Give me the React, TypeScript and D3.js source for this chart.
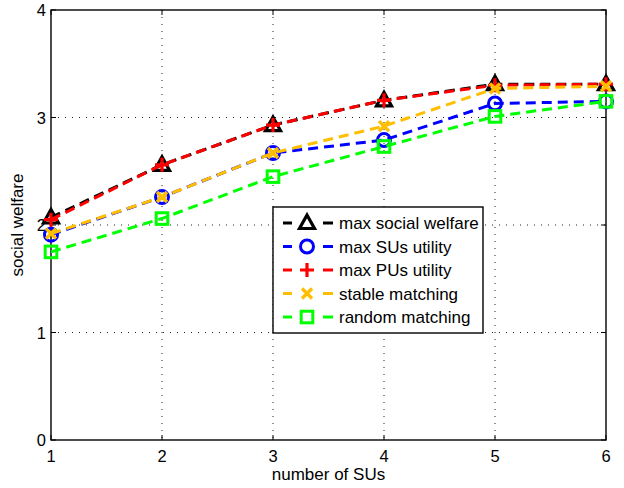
import React from "react";
import * as d3 from "d3";

const xValues = [1, 2, 3, 4, 5, 6];
const maxSocialWelfare = [2.07, 2.56, 2.93, 3.16, 3.31, 3.31];
const maxSUsUtility = [1.91, 2.26, 2.67, 2.79, 3.13, 3.15];
const maxPUsUtility = [2.05, 2.56, 2.93, 3.16, 3.30, 3.31];
const stableMatching = [1.92, 2.26, 2.67, 2.92, 3.27, 3.29];
const randomMatching = [1.75, 2.06, 2.45, 2.73, 3.01, 3.15];
const xTicks = [1, 2, 3, 4, 5, 6];
const yTicks = [0, 1, 2, 3, 4];
const seriesNames = ["max social welfare", "max SUs utility", "max PUs utility", "stable matching", "random matching"];

type MarkerKind = "tri" | "circle" | "plus" | "x" | "square";

const series: { name: string; values: number[]; color: string; marker: MarkerKind }[] = [
  { name: seriesNames[0], values: maxSocialWelfare, color: "#000000", marker: "tri" },
  { name: seriesNames[1], values: maxSUsUtility, color: "#0000ff", marker: "circle" },
  { name: seriesNames[2], values: maxPUsUtility, color: "#ff0000", marker: "plus" },
  { name: seriesNames[3], values: stableMatching, color: "#ffbf00", marker: "x" },
  { name: seriesNames[4], values: randomMatching, color: "#00ff00", marker: "square" },
];

const W = 624, H = 488;
const L = 51, R = 606, T = 10, B = 440;
const FONT = "'Liberation Sans', Arial, Helvetica, sans-serif";

function Marker({ kind, x, y, color }: { kind: MarkerKind; x: number; y: number; color: string }) {
  const sw = 3;
  switch (kind) {
    case "tri":
      return <path d={`M${x},${y - 8}L${x + 7.5},${y + 5.5}L${x - 7.5},${y + 5.5}Z`} fill="none" stroke={color} strokeWidth={3.2} strokeLinejoin="miter" />;
    case "circle":
      return <circle cx={x} cy={y} r={6.5} fill="none" stroke={color} strokeWidth={sw} />;
    case "plus":
      return <path d={`M${x - 7},${y}H${x + 7}M${x},${y - 7}V${y + 7}`} stroke={color} strokeWidth={3.2} fill="none" />;
    case "x":
      return <path d={`M${x - 5},${y - 5}L${x + 5},${y + 5}M${x - 5},${y + 5}L${x + 5},${y - 5}`} stroke={color} strokeWidth={3.4} fill="none" />;
    case "square":
      return <rect x={x - 5.8} y={y - 5.8} width={11.6} height={11.6} fill="none" stroke={color} strokeWidth={sw} />;
  }
}

export default function App() {
  const xs = d3.scaleLinear().domain([1, 6]).range([L, R]);
  const ys = d3.scaleLinear().domain([0, 4]).range([B, T]);
  const line = d3.line<number>().x((_, i) => xs(xValues[i])).y((d) => ys(d));

  const legX = 273, legY = 207, legW = 210, legH = 126;
  const rowY0 = 223, rowDy = 23.5;

  return (
    <svg width={W} height={H} style={{ position: "absolute", left: 0, top: 0, background: "#fff" }} fontFamily={FONT}>
      <rect width={W} height={H} fill="#fff" />
      {/* grid */}
      {xTicks.slice(1, -1).map((t) => (
        <line key={"gx" + t} x1={xs(t)} x2={xs(t)} y1={T} y2={B} stroke="#222" strokeWidth={1} strokeDasharray="1,6" />
      ))}
      {yTicks.slice(1, -1).map((t) => (
        <line key={"gy" + t} x1={L} x2={R} y1={ys(t)} y2={ys(t)} stroke="#222" strokeWidth={1} strokeDasharray="1,6" />
      ))}
      {/* ticks */}
      {xTicks.map((t) => (
        <g key={"tx" + t}>
          <line x1={xs(t)} x2={xs(t)} y1={B} y2={B - 5} stroke="#000" />
          <line x1={xs(t)} x2={xs(t)} y1={T} y2={T + 5} stroke="#000" />
          <text x={xs(t)} y={B + 22} fontSize={16.5} textAnchor="middle">{t}</text>
        </g>
      ))}
      {yTicks.map((t) => (
        <g key={"ty" + t}>
          <line x1={L} x2={L + 5} y1={ys(t)} y2={ys(t)} stroke="#000" />
          <line x1={R} x2={R - 5} y1={ys(t)} y2={ys(t)} stroke="#000" />
          <text x={L - 5} y={ys(t) + 6} fontSize={16.5} textAnchor="end">{t}</text>
        </g>
      ))}
      {/* box */}
      <rect x={L} y={T} width={R - L} height={B - T} fill="none" stroke="#000" strokeWidth={1.4} />
      {/* series */}
      {series.map((s) => (
        <g key={s.name}>
          <path d={line(s.values) || ""} fill="none" stroke={s.color} strokeWidth={3} strokeDasharray="10,6" />
          {s.values.map((v, i) => (
            <Marker key={i} kind={s.marker} x={xs(xValues[i])} y={ys(v)} color={s.color} />
          ))}
        </g>
      ))}
      {/* labels */}
      <text x={(L + R) / 2} y={480} fontSize={17} textAnchor="middle">number of SUs</text>
      <text transform={`translate(23,${(T + B) / 2}) rotate(-90)`} fontSize={17} textAnchor="middle">social welfare</text>
      {/* legend */}
      <rect x={legX} y={legY} width={legW} height={legH} fill="#fff" stroke="#000" strokeWidth={1.4} />
      {series.map((s, i) => {
        const y = rowY0 + i * rowDy;
        return (
          <g key={"leg" + s.name}>
            <line x1={283} x2={292} y1={y} y2={y} stroke={s.color} strokeWidth={3} />
            <line x1={323} x2={333} y1={y} y2={y} stroke={s.color} strokeWidth={3} />
            <Marker kind={s.marker} x={307} y={y} color={s.color} />
            <text x={339} y={y + 6} fontSize={17}>{s.name}</text>
          </g>
        );
      })}
    </svg>
  );
}
